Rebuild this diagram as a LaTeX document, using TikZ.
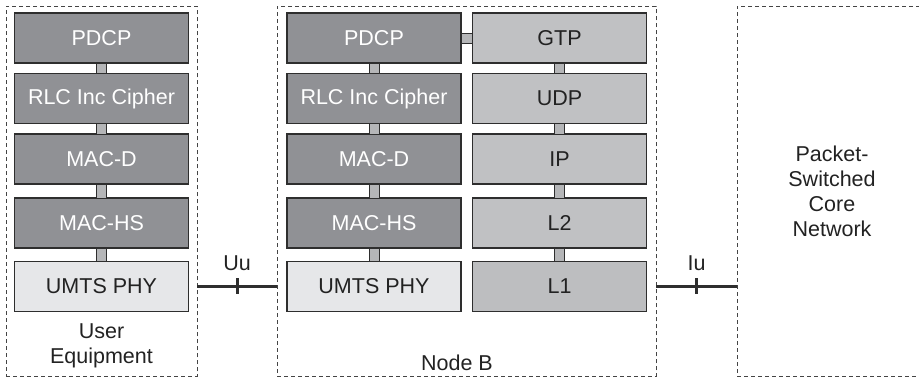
\documentclass[tikz,border=0pt]{standalone}
\usepackage{fontspec}
\setmainfont{Liberation Sans}
\usetikzlibrary{calc}
\definecolor{darkfill}{HTML}{909195}
\definecolor{lightfill}{HTML}{C0C1C3}
\definecolor{phyfill}{HTML}{E6E7E9}
\definecolor{lonefill}{HTML}{BDBEC0}
\definecolor{connfill}{HTML}{B5B6B8}
\definecolor{edge}{HTML}{2E2E2E}
\definecolor{dashc}{HTML}{444444}
\definecolor{txt}{HTML}{222222}
\begin{document}
\begin{tikzpicture}[x=1pt,y=-1pt,
  every node/.style={font=\fontsize{21.5}{25}\selectfont, inner sep=0pt, outer sep=0pt},
  layer/.style={draw=edge, line width=1.2pt, rectangle, minimum height=50pt},
  ulayer/.style={layer, minimum width=174pt},
  rlayer/.style={layer, minimum width=174pt},
  darkbox/.style={fill=darkfill, text=white},
  lightbox/.style={fill=lightfill, text=txt},
  phybox/.style={fill=phyfill, text=txt},
  loneboxs/.style={fill=lonefill, text=txt},
  conn/.style={draw=edge, line width=0.9pt, fill=connfill},
  dashbox/.style={draw=dashc, line width=0.9pt, dash pattern=on 4pt off 3pt, rectangle},
  iface/.style={draw=edge, line width=2.2pt},
  tick/.style={draw=edge, line width=3pt},
  lbl/.style={text=txt, align=center}
]
\useasboundingbox (0,0) rectangle (919,379);
% dashed enclosures
\node[dashbox, minimum width=191pt, minimum height=370pt] (ue) at (101.5,191.5) {};
\node[dashbox, minimum width=379pt, minimum height=370pt] (nb) at (466.5,191.5) {};
\node[dashbox, minimum width=190pt, minimum height=370pt, lbl] (cn) at (832,191.5) {Packet-\\Switched\\Core\\Network};
% UE stack
\node[ulayer, darkbox] (ue1) at (101.5,38) {PDCP};
\node[ulayer, darkbox] (ue2) at (101.5,98.5) {RLC Inc Cipher};
\node[ulayer, darkbox] (ue3) at (101.5,159) {MAC-D};
\node[ulayer, darkbox] (ue4) at (101.5,223) {MAC-HS};
\node[ulayer, phybox] (ue5) at (101.5,286.5) {UMTS PHY};
% Node B left stack
\node[ulayer, darkbox] (nl1) at (374,38) {PDCP};
\node[ulayer, darkbox] (nl2) at (374,98.5) {RLC Inc Cipher};
\node[ulayer, darkbox] (nl3) at (374,159) {MAC-D};
\node[ulayer, darkbox] (nl4) at (374,223) {MAC-HS};
\node[ulayer, phybox] (nl5) at (374,286.5) {UMTS PHY};
% Node B right stack
\node[rlayer, lightbox] (nr1) at (559.5,38) {GTP};
\node[rlayer, lightbox] (nr2) at (559.5,98.5) {UDP};
\node[rlayer, lightbox] (nr3) at (559.5,159) {IP};
\node[rlayer, lightbox] (nr4) at (559.5,223) {L2};
\node[rlayer, loneboxs] (nr5) at (559.5,286.5) {L1};
% vertical connectors
\foreach \s in {ue,nl,nr}{
  \foreach \a/\b in {1/2,2/3,3/4,4/5}{
    \draw[conn] ($(\s\a.south)+(-5,0)$) rectangle ($(\s\b.north)+(5,0)$);
  }
}
% horizontal connector PDCP-GTP
\draw[conn] ($(nl1.east)+(0,-5)$) rectangle ($(nr1.west)+(0,5)$);
% labels
\node[lbl] (uelbl) at (101.5,346) {User\\Equipment};
\node[lbl] (nblbl) at (457,363) {Node B};
% Uu interface
\coordinate (uua) at (ue.east |- ue5.east);
\coordinate (uub) at (nb.west |- ue5.east);
\draw[iface] (uua) -- (uub);
\coordinate (uum) at ($(uua)!0.5!(uub)$);
\draw[tick] ($(uum)+(0,-8)$) -- ($(uum)+(0,8)$);
\node[lbl] (uulbl) at ($(uum)+(0,-23)$) {Uu};
% Iu interface
\coordinate (iua) at (nb.east |- nr5.east);
\coordinate (iub) at (cn.west |- nr5.east);
\draw[iface] (iua) -- (iub);
\coordinate (ium) at ($(iua)!0.5!(iub)$);
\draw[tick] ($(ium)+(0,-8)$) -- ($(ium)+(0,8)$);
\node[lbl] (iulbl) at ($(ium)+(0,-23)$) {Iu};
\end{tikzpicture}
\end{document}
